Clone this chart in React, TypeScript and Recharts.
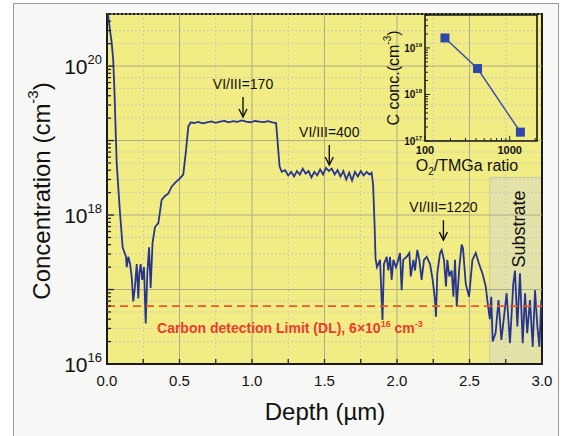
import React from 'react';
import {
  ComposedChart, LineChart, Line, XAxis, YAxis, ReferenceLine, ReferenceArea, ReferenceDot,
} from 'recharts';

// SIMS carbon profile, [depth (um), concentration (cm^-3)]
const surfacePeak = [
  [0.0, 4.3e20], [0.009, 4.6e20], [0.021, 3.0e20], [0.032, 2.1e20], [0.043, 1.2e20],
  [0.052, 4.3e19], [0.06, 1.3e19], [0.067, 4.9e18], [0.09, 1.05e18], [0.108, 3.7e17],
];
const troughLayer = [
  [0.131, 2.75e17], [0.136, 2.0e17], [0.147, 2.75e17], [0.159, 2.2e17], [0.17, 1.5e17],
  [0.181, 6.9e16], [0.193, 1.1e17], [0.205, 2.2e17], [0.216, 7.6e16], [0.223, 1.65e17],
  [0.232, 2.2e17], [0.243, 1.35e17], [0.255, 2.0e17], [0.267, 3.5e16], [0.278, 1.65e17],
  [0.29, 3.7e17], [0.301, 1.05e17], [0.314, 4.2e17], [0.331, 6.9e17], [0.354, 7.8e17],
  [0.377, 1.6e18], [0.4, 1.8e18], [0.423, 1.95e18], [0.446, 2.4e18], [0.469, 2.7e18],
  [0.503, 3.1e18], [0.526, 3.5e18], [0.545, 7.4e18], [0.561, 1.55e19],
];
const plateau170 = [
  [0.577, 1.75e19], [0.6, 1.72e19], [0.63, 1.78e19], [0.66, 1.7e19], [0.69, 1.76e19],
  [0.72, 1.81e19], [0.75, 1.73e19], [0.78, 1.79e19], [0.81, 1.84e19], [0.84, 1.76e19],
  [0.87, 1.82e19], [0.9, 1.78e19], [0.93, 1.86e19], [0.96, 1.8e19], [0.99, 1.76e19],
  [1.02, 1.83e19], [1.05, 1.79e19], [1.08, 1.77e19], [1.11, 1.82e19], [1.14, 1.75e19],
  [1.166, 1.72e19],
];
const layer400 = [
  [1.172, 1.25e19], [1.19, 4.5e18], [1.205, 3.8e18], [1.228, 4.0e18], [1.25, 3.4e18],
  [1.27, 3.8e18], [1.29, 3.3e18], [1.31, 3.9e18], [1.33, 3.5e18], [1.35, 4.2e18],
  [1.37, 3.6e18], [1.39, 3.9e18], [1.41, 3.2e18], [1.43, 3.8e18], [1.45, 3.4e18],
  [1.47, 4.1e18], [1.49, 3.5e18], [1.51, 4.3e18], [1.53, 3.9e18], [1.55, 4.2e18],
  [1.57, 3.5e18], [1.59, 4.0e18], [1.61, 3.3e18], [1.63, 3.9e18], [1.65, 3.0e18],
  [1.67, 3.7e18], [1.69, 2.9e18], [1.71, 3.8e18], [1.73, 3.3e18], [1.75, 3.9e18],
  [1.77, 3.4e18], [1.79, 3.8e18], [1.81, 3.5e18], [1.825, 3.7e18],
];
const layer1220 = [
  [1.835, 2.6e18], [1.845, 7.8e17], [1.852, 2.6e17], [1.862, 2.0e17], [1.883, 2.5e17],
  [1.9, 3.9e16], [1.91, 2.2e17], [1.929, 2.75e17], [1.94, 1.8e17], [1.952, 2.75e17],
  [1.963, 1.35e17], [1.975, 2.5e17], [1.993, 2.0e17], [2.009, 2.5e17], [2.021, 3.1e17],
  [2.032, 9.8e16], [2.043, 2.5e17], [2.067, 2.75e17], [2.085, 3.1e17], [2.095, 1.5e17],
  [2.113, 2.5e17], [2.124, 1.8e17], [2.14, 3.4e17], [2.154, 2.5e17], [2.17, 1.35e17],
  [2.186, 2.5e17], [2.205, 2.75e17], [2.228, 2.2e17], [2.246, 1.35e17], [2.262, 7.2e16],
  [2.269, 4.3e16], [2.278, 1.65e17], [2.297, 3.1e17], [2.308, 3.4e17], [2.324, 2.5e17],
  [2.338, 1.1e17], [2.347, 2.5e17], [2.361, 1.5e17], [2.377, 1.8e17], [2.389, 8.0e16],
  [2.4, 2.5e17], [2.412, 5.9e16], [2.43, 2.0e17], [2.446, 4.0e17], [2.455, 3.6e17],
  [2.474, 1.2e17], [2.497, 8.0e16], [2.52, 2.5e17], [2.543, 3.1e17], [2.566, 2.2e17],
  [2.589, 1.65e17], [2.612, 1.1e17], [2.623, 7.2e16],
];
const substrateNoise = [
  [2.64, 4.0e16], [2.65, 8.0e16], [2.66, 2.0e16], [2.68, 2.6e16], [2.7, 7.2e16],
  [2.72, 2.1e16], [2.756, 8.9e16], [2.779, 1.9e16], [2.802, 1.2e17], [2.814, 1.8e17],
  [2.83, 3.2e16], [2.848, 1.65e17], [2.867, 1.9e16], [2.883, 8.9e16], [2.898, 2.6e16],
  [2.917, 7.2e16], [2.936, 1.7e16], [2.952, 9.8e16], [2.968, 3.2e16], [2.982, 1.7e16],
  [2.995, 7.2e16],
];

// inset: C concentration vs O2/TMGa ratio
const insetRatio = [172, 417, 1337];
const insetConc = [1.64e19, 3.6e18, 1.55e17];

const detectionLimit = 6e16;
const xTicks = [0, 0.25, 0.5, 0.75, 1, 1.25, 1.5, 1.75, 2, 2.25, 2.5, 2.75, 3];
const xMajorGrid = [0.5, 1, 1.5, 2, 2.5];
const xMinorGrid = [0.25, 0.75, 1.25, 1.75, 2.25, 2.75];
const yDecades = [1e17, 1e18, 1e19, 1e20];
const yLabelExps = [16, 18, 20];
const insetXTicks = [100, 200, 300, 400, 500, 600, 700, 800, 900, 1000, 2000];
const insetXLabels = [100, 1000];
const insetYLabelExps = [17, 18, 19];

const Y_MIN = 1e16;
const Y_MAX = 5e20;
const IN_X = [100, 2100];
const IN_Y = [1e17, 5.1e19];

const logTicks = (lo: number, hi: number) => {
  const out: number[] = [];
  for (let e = Math.floor(Math.log10(lo)); e <= Math.ceil(Math.log10(hi)); e++) {
    for (let m = 1; m <= 9; m++) {
      const v = m * Math.pow(10, e);
      if (v >= lo * 0.999 && v <= hi) out.push(v);
    }
  }
  return out;
};
const yTicks = logTicks(Y_MIN, Y_MAX);
const yDotted = yTicks.filter((v) => [2, 3, 5, 7].includes(Math.round(v / Math.pow(10, Math.floor(Math.log10(v) + 1e-9)))));
const insetYTicks = logTicks(IN_Y[0], IN_Y[1]);

const profile = [...surfacePeak, ...troughLayer, ...plateau170, ...layer400, ...layer1220, ...substrateNoise]
  .map(([d, c]) => ({ d, c }));
const insetData = insetRatio.map((r, i) => ({ r, c: insetConc[i] }));

const FONT = '"Liberation Sans", Arial, Helvetica, sans-serif';
const PLOT_LEFT = 107;
const PLOT_BOTTOM = 364;
const IN_LEFT = 65;
const IN_BOTTOM = 141;
const YELLOW = '#f1ed84';
const GRID = '#aeac88';
const GRID_DOT = '#cfcdb0';

const mantissaOf = (v: number) => {
  const e = Math.floor(Math.log10(v) + 1e-9);
  return { e, m: Math.round(v / Math.pow(10, e)) };
};

const MainYTick = ({ y, payload }: any) => {
  const { e, m } = mantissaOf(payload.value);
  const major = m === 1;
  return (
    <g>
      <line x1={PLOT_LEFT} x2={PLOT_LEFT + (major ? 7 : 4)} y1={y} y2={y} stroke="#222" strokeWidth={1.3} />
      {major && yLabelExps.includes(e) && (
        <text x={PLOT_LEFT - 5} y={y + 8} textAnchor="end" fontFamily={FONT} fontSize={21} fill="#111">
          10<tspan fontSize={13} dy={-10}>{e}</tspan>
        </text>
      )}
    </g>
  );
};

const MainXTick = ({ x, payload }: any) => {
  const v = payload.value;
  const major = Math.abs(v * 2 - Math.round(v * 2)) < 1e-6;
  return (
    <g>
      <line x1={x} x2={x} y1={PLOT_BOTTOM} y2={PLOT_BOTTOM - 5} stroke="#222" strokeWidth={1.3} />
      {major && (
        <text x={x} y={PLOT_BOTTOM + 22} textAnchor="middle" fontFamily={FONT} fontSize={15} fill="#111">
          {v.toFixed(1)}
        </text>
      )}
    </g>
  );
};

const InsetYTick = ({ y, payload }: any) => {
  const { e, m } = mantissaOf(payload.value);
  const major = m === 1;
  return (
    <g>
      <line x1={IN_LEFT} x2={IN_LEFT + (major ? 5 : 3)} y1={y} y2={y} stroke="#222" strokeWidth={1} />
      {major && insetYLabelExps.includes(e) && (
        <text x={IN_LEFT - 3} y={y + 4} textAnchor="end" fontFamily={FONT} fontSize={10} fontWeight="bold" fill="#111">
          10<tspan fontSize={6} dy={-5}>{e}</tspan>
        </text>
      )}
    </g>
  );
};

const InsetXTick = ({ x, payload }: any) => {
  const v = payload.value;
  const major = insetXLabels.includes(v);
  return (
    <g>
      <line x1={x} x2={x} y1={IN_BOTTOM} y2={IN_BOTTOM - (major ? 5 : 3)} stroke="#222" strokeWidth={1} />
      {major && (
        <text x={x} y={IN_BOTTOM + 13} textAnchor="middle" fontFamily={FONT} fontSize={11} fontWeight="bold" fill="#111">
          {v}
        </text>
      )}
    </g>
  );
};

const arrowNote = (label: string) => ({ cx, cy }: any) => (
  <g>
    <line x1={cx} x2={cx} y1={cy - 20} y2={cy} stroke="#111" strokeWidth={1.4} />
    <path d={`M${cx - 4},${cy - 8} L${cx},${cy} L${cx + 4},${cy - 8}`} fill="none" stroke="#111" strokeWidth={1.4} />
    <text x={cx} y={cy - 28} textAnchor="middle" fontFamily={FONT} fontSize={14} fill="#111">{label}</text>
  </g>
);

const dlNote = ({ cx, cy }: any) => (
  <text x={cx} y={cy + 27} fontFamily={FONT} fontSize={14} fontWeight="bold" fill="#ee3b2b">
    Carbon detection Limit (DL), 6×10<tspan fontSize={9} dy={-6}>16</tspan>
    <tspan dy={6}> cm</tspan><tspan fontSize={9} dy={-6}>-3</tspan>
  </text>
);

const substrateNote = ({ cx, cy }: any) => (
  <text x={cx} y={cy} transform={`rotate(-90 ${cx} ${cy})`} textAnchor="middle" dominantBaseline="central"
    fontFamily={FONT} fontSize={18} fill="#111">Substrate</text>
);

const SquareDot = ({ cx, cy }: any) => (
  <rect x={cx - 4.5} y={cy - 4.5} width={9} height={9} fill="#2f47a8" />
);

export default function App() {
  return (
    <div style={{ position: 'absolute', left: 0, top: 0, width: 567, height: 436, background: '#fff', overflow: 'hidden' }}>
      <div style={{ position: 'absolute', left: 13, top: 3, width: 544, height: 450, border: '1px solid #9a9a9a', background: '#f7f7f5' }} />
      <div style={{ position: 'absolute', left: 0, top: 0 }}>
        <ComposedChart width={567} height={436} data={profile} margin={{ top: 14, right: 25, left: 0, bottom: 0 }}>
          <XAxis dataKey="d" type="number" domain={[0, 3]} ticks={xTicks} interval={0} height={72}
            tickLine={false} axisLine={false} tick={<MainXTick />} allowDataOverflow />
          <YAxis type="number" scale="log" domain={[Y_MIN, Y_MAX]} ticks={yTicks} interval={0} width={107}
            tickLine={false} axisLine={false} tick={<MainYTick />} allowDataOverflow />
          <ReferenceArea x1={0} x2={3} y1={Y_MIN} y2={Y_MAX} fill={YELLOW} fillOpacity={1} stroke="none" />
          <ReferenceArea x1={2.64} x2={3} y1={Y_MIN} y2={3.2e18} fill="#e3e3a9" fillOpacity={1} stroke="#c9c8a0" />
          {yDotted.map((v) => (
            <ReferenceLine key={'yd' + v} y={v} stroke={GRID_DOT} strokeDasharray="2 2" />
          ))}
          {xMinorGrid.map((v) => (
            <ReferenceLine key={'xd' + v} x={v} stroke={GRID_DOT} strokeDasharray="2 2" />
          ))}
          {yDecades.map((v) => (
            <ReferenceLine key={'y' + v} y={v} stroke={GRID} />
          ))}
          {xMajorGrid.map((v) => (
            <ReferenceLine key={'x' + v} x={v} stroke={GRID} />
          ))}
          <Line dataKey="c" type="linear" stroke="#27358f" strokeWidth={1.8} dot={false} isAnimationActive={false} />
          <ReferenceLine y={detectionLimit} stroke="#f0552c" strokeWidth={1.8} strokeDasharray="8 5" />
          <ReferenceArea x1={0} x2={3} y1={Y_MIN} y2={Y_MAX} fill="none" stroke="#1a1a1a" strokeWidth={2} />
          <ReferenceDot x={0.938} y={2.07e19} r={0} shape={arrowNote('VI/III=170')} />
          <ReferenceDot x={1.533} y={4.7e18} r={0} shape={arrowNote('VI/III=400')} />
          <ReferenceDot x={2.32} y={4.6e17} r={0} shape={arrowNote('VI/III=1220')} />
          <ReferenceDot x={0.345} y={detectionLimit} r={0} shape={dlNote} />
          <ReferenceDot x={2.84} y={6.5e17} r={0} shape={substrateNote} />
        </ComposedChart>
      </div>
      <div style={{ position: 'absolute', left: 360, top: 0 }}>
        <LineChart width={187} height={186} data={insetData} margin={{ top: 15, right: 10, left: 0, bottom: 0 }}>
          <XAxis dataKey="r" type="number" scale="log" domain={IN_X} ticks={insetXTicks} interval={0} height={45}
            tickLine={false} axisLine={false} tick={<InsetXTick />} allowDataOverflow />
          <YAxis type="number" scale="log" domain={IN_Y} ticks={insetYTicks} interval={0} width={65}
            tickLine={false} axisLine={false} tick={<InsetYTick />} allowDataOverflow />
          <Line dataKey="c" type="linear" stroke="#3a4fb0" strokeWidth={1.5} dot={<SquareDot />} isAnimationActive={false} />
          <ReferenceArea x1={IN_X[0]} x2={IN_X[1]} y1={IN_Y[0]} y2={IN_Y[1]} fill="none" stroke="#1a1a1a" strokeWidth={1.6} />
        </LineChart>
      </div>
      <svg width={567} height={436} style={{ position: 'absolute', left: 0, top: 0, pointerEvents: 'none' }}>
        <text x={41} y={191} transform="rotate(-90 41 191)" textAnchor="middle" dominantBaseline="central"
          fontFamily={FONT} fontSize={24} fill="#111">
          Concentration (cm<tspan fontSize={15} dy={-9}>-3</tspan><tspan dy={9}>)</tspan>
        </text>
        <text x={325} y={420} textAnchor="middle" fontFamily={FONT} fontSize={24} fill="#111">Depth (µm)</text>
        <text x={393} y={78} transform="rotate(-90 393 78)" textAnchor="middle" dominantBaseline="central"
          fontFamily={FONT} fontSize={16} fill="#111">
          C conc.(cm<tspan fontSize={10} dy={-6}>-3</tspan><tspan dy={6}>)</tspan>
        </text>
        <text x={467} y={171} textAnchor="middle" fontFamily={FONT} fontSize={16} fill="#111">
          O<tspan fontSize={10} dy={4}>2</tspan><tspan dy={-4}>/TMGa ratio</tspan>
        </text>
      </svg>
    </div>
  );
}
